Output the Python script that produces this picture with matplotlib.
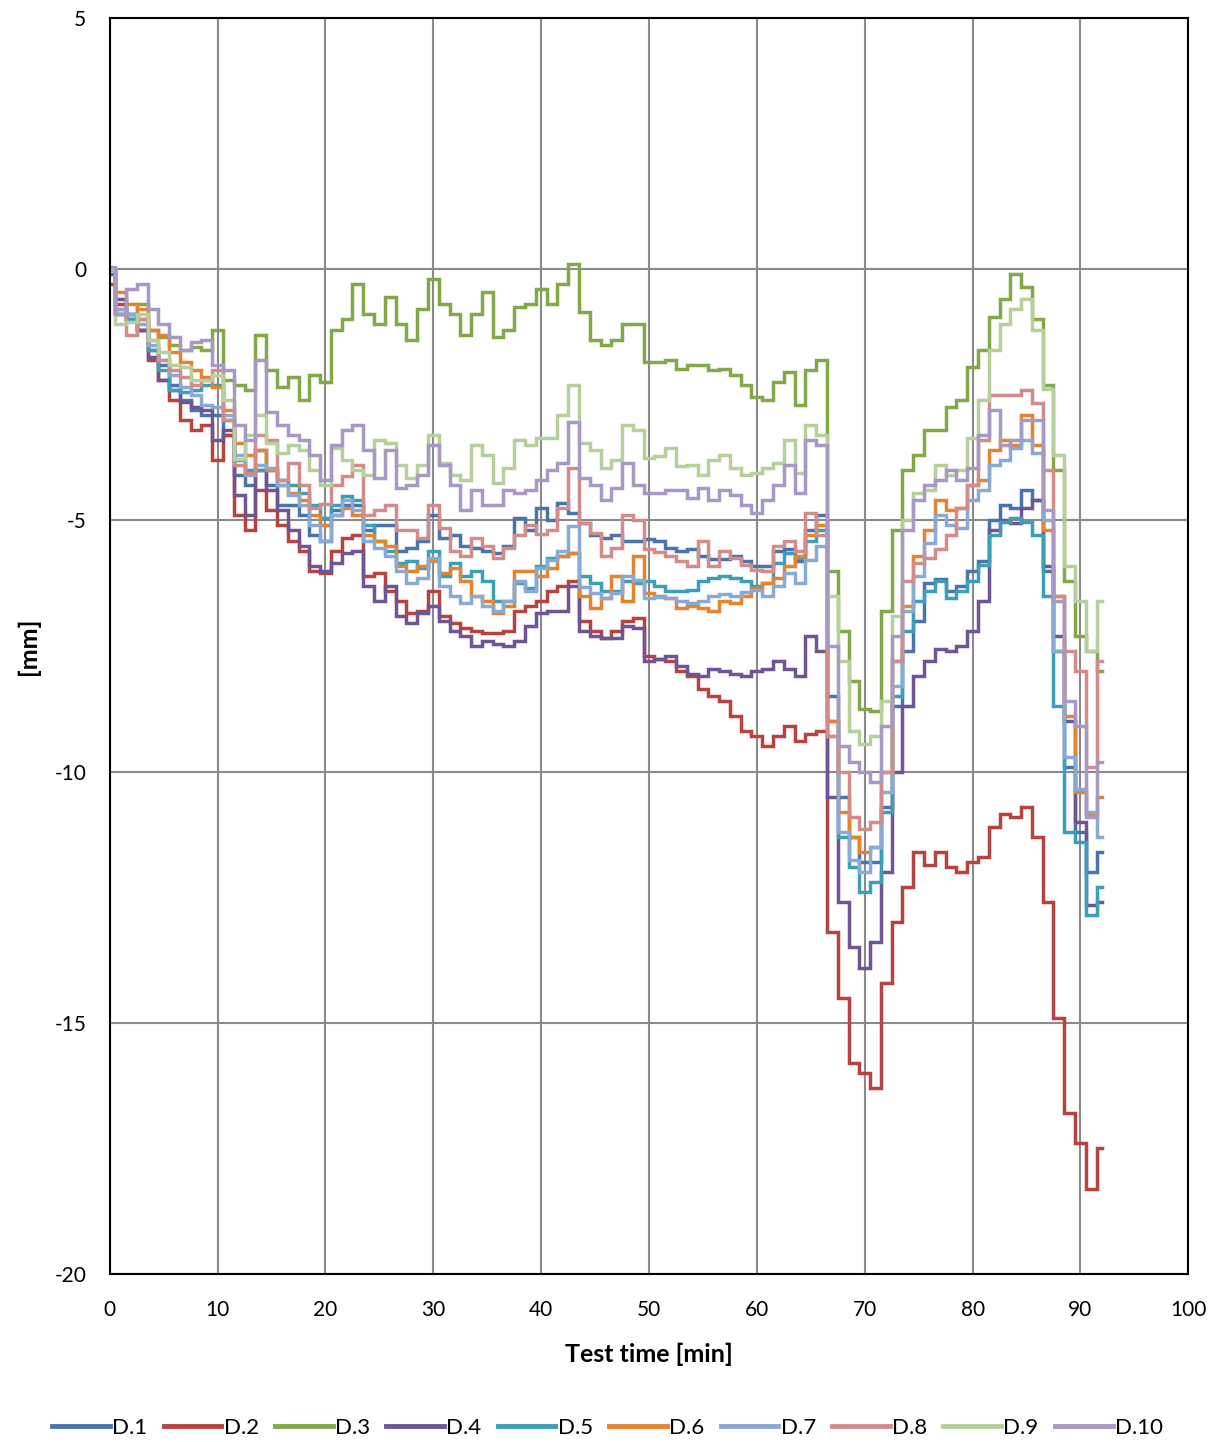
import numpy as np
import matplotlib
matplotlib.use("Agg")
import matplotlib.pyplot as plt

plt.rcParams['font.family'] = ['Lato', 'DejaVu Sans']
plt.rcParams['axes.unicode_minus'] = False

# ---------- DATA (1 min resolution) ----------
time_min = list(range(0, 93))

d1 = [0.0, -0.8, -0.9, -1.2, -1.6, -1.9, -2.3, -2.6, -2.8, -2.9,
      -2.9, -3.3, -4.1, -4.3, -3.6, -4.3, -4.7, -4.7, -4.9, -5.3,
      -5.4, -4.8, -4.7, -4.7, -5.2, -5.1, -5.1, -5.6, -5.55, -5.4,
      -4.9, -5.35, -5.3, -5.5, -5.55, -5.6, -5.64, -5.5, -4.95, -5.2,
      -4.75, -5.0, -4.65, -4.85, -5.05, -5.3, -5.35, -5.3, -5.4, -5.4,
      -5.37, -5.4, -5.55, -5.6, -5.56, -5.7, -5.76, -5.76, -5.7, -5.8,
      -5.9, -5.9, -5.6, -5.56, -5.8, -5.2, -4.9, -8.5, -10.5, -11.3,
      -11.8, -11.8, -10.7, -8.7, -7.6, -7.0, -6.25, -6.16, -6.4, -6.3,
      -6.0, -5.8, -5.0, -4.7, -4.75, -4.4, -4.6, -6.0, -7.6, -9.9,
      -11.2, -12.0, -11.6]
d2 = [-0.3, -0.7, -1.0, -1.2, -1.8, -2.2, -2.6, -3.0, -3.2, -3.1,
      -3.8, -3.3, -4.9, -5.2, -4.4, -4.8, -5.1, -5.4, -5.6, -6.0,
      -6.05, -5.6, -5.35, -5.3, -6.1, -6.05, -6.4, -6.6, -6.85, -6.8,
      -6.4, -6.9, -7.05, -7.15, -7.2, -7.25, -7.25, -7.2, -6.8, -6.7,
      -6.6, -6.4, -6.3, -6.2, -7.0, -7.2, -7.35, -7.2, -7.0, -6.95,
      -7.7, -7.75, -7.8, -8.0, -8.1, -8.35, -8.5, -8.6, -8.9, -9.2,
      -9.3, -9.5, -9.3, -9.1, -9.4, -9.25, -9.2, -13.2, -14.5, -15.8,
      -16.0, -16.3, -14.2, -13.0, -12.3, -11.6, -11.85, -11.6, -11.9, -12.0,
      -11.8, -11.7, -11.1, -10.85, -10.9, -10.7, -11.3, -12.6, -14.9, -16.8,
      -17.4, -18.3, -17.5]
d3 = [0.0, -0.9, -1.0, -0.7, -1.2, -1.35, -1.5, -1.6, -1.55, -1.6,
      -1.2, -2.2, -2.3, -2.4, -1.3, -2.0, -2.35, -2.15, -2.6, -2.1,
      -2.25, -1.2, -1.0, -0.3, -0.9, -1.1, -0.55, -1.1, -1.4, -0.8,
      -0.2, -0.7, -0.9, -1.3, -0.9, -0.46, -1.35, -1.2, -0.75, -0.7,
      -0.4, -0.7, -0.3, 0.1, -0.85, -1.4, -1.5, -1.4, -1.1, -1.1,
      -1.85, -1.85, -1.8, -1.98, -1.9, -1.9, -2.0, -1.98, -2.1, -2.3,
      -2.55, -2.6, -2.25, -2.05, -2.7, -2.0, -1.8, -6.0, -7.2, -8.2,
      -8.75, -8.8, -6.8, -5.2, -4.0, -3.7, -3.2, -3.2, -2.75, -2.6,
      -1.95, -1.6, -0.95, -0.6, -0.1, -0.35, -1.0, -2.3, -4.0, -6.2,
      -7.3, -7.6, -8.0]
d4 = [-0.1, -0.6, -0.9, -1.2, -1.75, -2.2, -2.4, -2.65, -2.75, -2.8,
      -3.4, -3.2, -4.5, -4.9, -4.0, -4.4, -4.8, -5.2, -5.5, -5.9,
      -6.0, -5.85, -5.65, -5.6, -6.3, -6.6, -6.3, -6.9, -7.05, -6.85,
      -6.7, -7.0, -7.2, -7.3, -7.5, -7.4, -7.45, -7.5, -7.4, -7.1,
      -6.85, -6.8, -6.8, -6.3, -7.2, -7.3, -7.35, -7.35, -7.1, -7.15,
      -7.8, -7.75, -7.7, -7.9, -8.05, -8.1, -7.95, -8.0, -8.05, -8.1,
      -8.0, -7.95, -7.8, -7.95, -8.1, -7.3, -7.6, -10.5, -12.6, -13.5,
      -13.9, -13.4, -12.0, -10.0, -8.7, -8.1, -7.8, -7.55, -7.6, -7.5,
      -7.2, -6.6, -5.2, -5.0, -5.05, -4.75, -4.6, -5.9, -7.3, -9.0,
      -11.0, -12.65, -12.6]
d5 = [0.0, -0.9, -1.0, -1.0, -1.6, -2.0, -2.4, -2.45, -2.4, -2.3,
      -2.3, -3.0, -3.8, -4.0, -4.0, -4.0, -4.2, -4.3, -4.45, -4.7,
      -4.95, -4.7, -4.52, -4.6, -5.1, -5.4, -5.6, -5.85, -5.8, -5.95,
      -5.6, -6.1, -5.85, -6.1, -6.0, -6.2, -6.6, -6.6, -6.25, -6.35,
      -5.9, -5.75, -5.7, -5.64, -6.1, -6.25, -6.4, -6.4, -6.2, -6.24,
      -6.2, -6.3, -6.4, -6.4, -6.38, -6.2, -6.15, -6.1, -6.15, -6.2,
      -6.3, -6.25, -5.85, -5.65, -5.75, -5.4, -5.2, -9.0, -11.3, -11.9,
      -12.4, -12.2, -10.8, -8.5, -7.2, -6.6, -6.4, -6.2, -6.55, -6.4,
      -6.2, -5.88, -5.3, -5.04, -4.96, -5.04, -5.3, -6.5, -8.7, -11.2,
      -11.4, -12.85, -12.3]
d6 = [0.0, -0.45, -0.7, -0.8, -1.2, -1.3, -1.65, -1.85, -2.0, -2.15,
      -2.35, -2.8, -3.45, -3.7, -3.6, -4.0, -4.3, -4.45, -4.6, -4.9,
      -5.1, -4.9, -4.75, -4.9, -5.3, -5.4, -5.5, -5.9, -6.0, -5.9,
      -5.8, -6.05, -5.95, -6.2, -6.5, -6.6, -6.84, -6.7, -6.0, -6.0,
      -6.1, -5.95, -5.7, -5.64, -6.5, -6.75, -6.55, -6.1, -6.6, -5.7,
      -6.44, -6.5, -6.55, -6.75, -6.7, -6.75, -6.8, -6.6, -6.64, -6.5,
      -6.35, -6.25, -6.15, -5.9, -5.7, -5.3, -5.1, -9.0, -10.8, -11.3,
      -11.6, -11.5, -10.0, -7.8, -6.7, -5.7, -5.2, -4.6, -4.8, -4.75,
      -4.3, -4.2, -3.6, -3.4, -3.5, -2.9, -3.5, -5.2, -6.5, -8.9,
      -10.4, -10.85, -10.5]
d7 = [0.0, -0.8, -0.9, -1.1, -1.5, -1.8, -2.1, -2.35, -2.5, -2.7,
      -2.75, -2.9, -3.7, -4.1, -3.9, -3.95, -4.3, -4.5, -4.7, -5.1,
      -5.4, -4.9, -4.6, -4.8, -5.4, -5.55, -5.7, -6.0, -6.25, -6.15,
      -5.75, -6.3, -6.5, -6.65, -6.5, -6.7, -6.8, -6.6, -6.2, -6.4,
      -5.95, -5.78, -5.6, -5.11, -6.33, -6.45, -6.55, -6.45, -6.1, -6.18,
      -6.55, -6.53, -6.55, -6.6, -6.64, -6.6, -6.5, -6.47, -6.5, -6.42,
      -6.38, -6.5, -6.3, -6.05, -6.25, -5.78, -5.5, -9.3, -11.2, -11.75,
      -12.0, -11.5, -10.4, -8.3, -6.8, -6.1, -5.45, -4.9, -5.1, -5.15,
      -4.6, -4.4, -3.9, -3.8, -3.55, -3.4, -3.65, -5.0, -7.6, -9.7,
      -10.35, -10.8, -11.3]
d8 = [0.0, -0.9, -1.3, -1.0, -1.4, -1.8, -2.0, -2.15, -2.3, -2.2,
      -2.0, -3.0, -3.9, -4.05, -3.3, -3.4, -4.2, -3.85, -4.3, -4.75,
      -4.68, -4.3, -4.12, -3.9, -4.9, -4.8, -4.7, -5.2, -5.2, -5.35,
      -4.7, -5.15, -5.6, -5.7, -5.35, -5.5, -5.75, -5.55, -5.3, -5.1,
      -5.28, -5.2, -4.75, -3.95, -5.05, -5.25, -5.7, -5.55, -4.9, -5.0,
      -5.56, -5.62, -5.7, -5.8, -5.9, -5.4, -5.9, -5.6, -5.75, -5.88,
      -5.98, -6.0, -5.5, -5.4, -5.6, -4.85, -5.3, -9.3, -10.0, -10.9,
      -11.15, -11.0, -10.0, -7.8, -6.2, -5.85, -5.75, -5.56, -5.3, -4.75,
      -4.3, -3.4, -2.5, -2.5, -2.5, -2.4, -2.66, -4.0, -6.5, -7.6,
      -8.0, -9.9, -7.8]
d9 = [0.0, -1.1, -1.05, -0.9, -1.4, -1.65, -1.9, -1.95, -2.2, -2.2,
      -2.1, -2.6, -3.77, -3.3, -2.9, -3.45, -3.65, -3.5, -3.6, -4.0,
      -4.3, -3.55, -3.8, -4.0, -4.1, -3.4, -3.45, -3.9, -4.15, -3.9,
      -3.3, -3.85, -4.1, -4.2, -3.5, -3.7, -4.25, -3.95, -3.4, -3.5,
      -3.35, -3.35, -2.9, -2.3, -3.45, -3.6, -3.95, -3.8, -3.1, -3.2,
      -3.75, -3.72, -3.55, -3.92, -3.9, -4.1, -3.8, -3.7, -3.95, -4.1,
      -4.05, -3.95, -3.85, -3.4, -4.05, -3.1, -3.3, -6.5, -7.8, -9.2,
      -9.45, -9.3, -8.6, -6.9, -5.0, -4.45, -4.4, -3.9, -4.1, -4.0,
      -3.35, -2.6, -1.6, -1.1, -0.8, -0.6, -1.2, -2.38, -3.7, -5.9,
      -6.6, -7.6, -6.6]
d10 = [0.05, -0.9, -0.4, -0.3, -0.8, -1.1, -1.35, -1.6, -1.45, -1.4,
       -1.9, -2.0, -3.1, -3.4, -1.8, -2.85, -3.1, -3.3, -3.4, -3.7,
       -4.2, -3.5, -3.2, -3.1, -3.6, -4.15, -3.6, -4.35, -4.3, -4.1,
       -3.5, -3.9, -4.3, -4.8, -4.4, -4.7, -4.7, -4.4, -4.45, -4.4,
       -4.2, -4.0, -3.85, -3.05, -4.15, -4.3, -4.6, -4.35, -3.85, -4.3,
       -4.45, -4.45, -4.4, -4.4, -4.55, -4.35, -4.6, -4.4, -4.5, -4.7,
       -4.85, -4.6, -4.3, -3.9, -4.45, -3.4, -3.5, -7.5, -9.5, -9.8,
       -10.0, -10.2, -9.1, -7.3, -5.2, -4.6, -4.3, -4.2, -4.0, -4.2,
       -3.95, -3.3, -2.8, -3.5, -3.4, -3.0, -3.0, -4.8, -6.6, -8.6,
       -9.1, -10.9, -9.8]

series_names = ["D.1", "D.2", "D.3", "D.4", "D.5", "D.6", "D.7", "D.8", "D.9", "D.10"]
series_data = [d1, d2, d3, d4, d5, d6, d7, d8, d9, d10]
series_colors = ["#4a74ad", "#b8423f", "#82a847", "#6f5496", "#3c9fb8",
                 "#e5832f", "#8aaad6", "#d48c8b", "#b5d09b", "#a898c6"]

x_ticks = list(range(0, 101, 10))
y_ticks = [-20, -15, -10, -5, 0, 5]

# ---------- PLOT ----------
fig = plt.figure(figsize=(12.2, 14.42), dpi=100)
ax = fig.add_axes([0.090, 0.1165, 0.884, 0.871])

for name, vals, col in zip(series_names, series_data, series_colors):
    ax.plot(time_min, vals, color=col, lw=2.5, label=name,
            drawstyle="steps-mid", solid_joinstyle="miter")

ax.set_xlim(0, 100)
ax.set_ylim(-20, 5)
ax.set_xticks(x_ticks)
ax.set_yticks(y_ticks)
ax.grid(True, color="#8a8a8a", lw=1.5)
ax.set_axisbelow(True)
for sp in ax.spines.values():
    sp.set_color("black")
    sp.set_linewidth(1.5)
ax.tick_params(axis="both", labelsize=15, length=0)
ax.tick_params(axis="x", pad=19)
ax.tick_params(axis="y", pad=17)

ax.set_xlabel("Test time [min]", fontsize=18, fontweight="bold", labelpad=16)
ax.set_ylabel("[mm]", fontsize=18, fontweight="bold", labelpad=10)

handles, labels = ax.get_legend_handles_labels()
leg = fig.legend(handles, labels, loc="center", bbox_to_anchor=(0.498, 0.0097),
                 ncol=10, frameon=False, fontsize=16, handlelength=2.6,
                 handletextpad=0.1, columnspacing=0.73)
for line in leg.get_lines():
    line.set_linewidth(3.5)
    line.set_drawstyle("default")

fig.savefig("out.png", dpi=100)
